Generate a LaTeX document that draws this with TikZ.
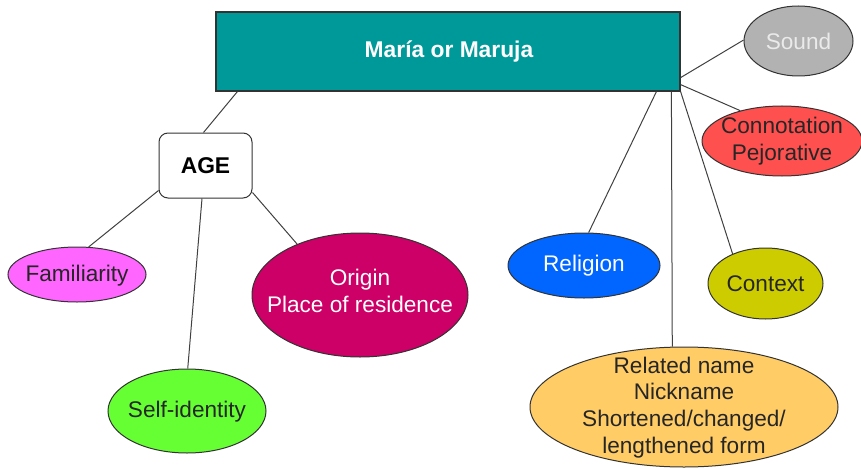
\documentclass[tikz,border=0pt]{standalone}
\usepackage{fontspec}
\setmainfont{Liberation Sans}
\usetikzlibrary{shapes.geometric,calc}

\definecolor{teal}{HTML}{009999}
\definecolor{soundfill}{HTML}{B2B2B2}
\definecolor{soundtext}{HTML}{EAEAEA}
\definecolor{connfill}{HTML}{FF5050}
\definecolor{famfill}{HTML}{FF66FF}
\definecolor{origfill}{HTML}{CC0066}
\definecolor{selffill}{HTML}{66FF33}
\definecolor{relfill}{HTML}{0066FF}
\definecolor{ctxfill}{HTML}{CCCC00}
\definecolor{namefill}{HTML}{FFCC66}
\definecolor{edge}{HTML}{333333}
\definecolor{link}{HTML}{404040}

\tikzset{
  bubble/.style={ellipse, draw=edge, line width=1pt, inner sep=0pt},
  caption/.style={align=center, inner sep=0pt,
    font=\fontsize{22.6}{26.8}\selectfont},
  heading/.style={inner sep=0pt, font=\fontsize{22.8}{26}\selectfont\bfseries},
  link/.style={draw=link, line width=1pt},
}

\begin{document}
\begin{tikzpicture}[x=1pt, y=-1pt]
  \useasboundingbox (0,0) rectangle (861,468);

  % central topic
  \node[draw=edge, line width=1.2pt, fill=teal, minimum width=464pt,
        minimum height=79pt, inner sep=0pt] (main) at (448,51.5) {};
  \node[heading, text=white] (maint) at (449,52) {María or Maruja};

  % age box
  \node[draw=edge, line width=1pt, fill=white, rounded corners=9pt,
        minimum width=93pt, minimum height=65pt, inner sep=0pt]
        (age) at (205.5,165.5) {};
  \node[heading] (aget) at (205.5,165.5) {AGE};

  % bubbles
  \node[bubble, fill=soundfill, minimum width=109pt, minimum height=70pt]
        (sound) at (798.5,41) {};
  \node[caption, text=soundtext] (soundt) at (798.5,41.5) {Sound};

  \node[bubble, fill=connfill, minimum width=160pt, minimum height=70pt]
        (conn) at (782,141) {};
  \node[caption, text=black!85] (connt) at (782,141.5)
        {Connotation\\Pejorative};

  \node[bubble, fill=famfill, minimum width=138pt, minimum height=55pt]
        (fam) at (77,274.5) {};
  \node[caption, text=black!85] (famt) at (77,275.5) {Familiarity};

  \node[bubble, fill=origfill, minimum width=216pt, minimum height=124pt]
        (orig) at (360,295) {};
  \node[caption, text=white] (origt) at (360,291)
        {Origin\\Place of residence};

  \node[bubble, fill=selffill, minimum width=158pt, minimum height=84pt]
        (self) at (187,411) {};
  \node[caption, text=black!85] (selft) at (187,411.5) {Self-identity};

  \node[bubble, fill=relfill, minimum width=152pt, minimum height=65pt]
        (relig) at (584,265.5) {};
  \node[caption, text=white] (religt) at (584,266) {Religion};

  \node[bubble, fill=ctxfill, minimum width=115pt, minimum height=71pt]
        (ctx) at (765.5,283.5) {};
  \node[caption, text=black!85] (ctxt) at (765.5,284) {Context};

  \node[bubble, fill=namefill, minimum width=308pt, minimum height=120pt]
        (rname) at (684,407) {};
  \node[caption, text=black!85] (rnamet) at (684,407.5)
        {Related name\\Nickname\\Shortened/changed/\\lengthened form};

  % connectors from the central topic
  \draw[link] ($(main.south west)+(22,0)$) -- ($(age.north)+(-2,0)$);
  \draw[link] ($(main.south west)+(441,0)$) -- (relig.82);
  \draw[link] ($(main.south west)+(456,0)$) -- (rname.101);
  \draw[link] (main.south east) -- (ctx.138.5);
  \draw[link] ($(main.south east)+(0,-7)$) -- (conn.144);
  \draw[link] ($(main.south east)+(0,-14)$) -- (sound.179);

  % connectors from the age box
  \draw[link] ($(age.south west)+(0,-8)$) -- (fam.67);
  \draw[link] ($(age.south)+(-3.5,0)$) -- (self.89);
  \draw[link] ($(age.south east)+(0,-6)$) -- (orig.141);
\end{tikzpicture}
\end{document}
